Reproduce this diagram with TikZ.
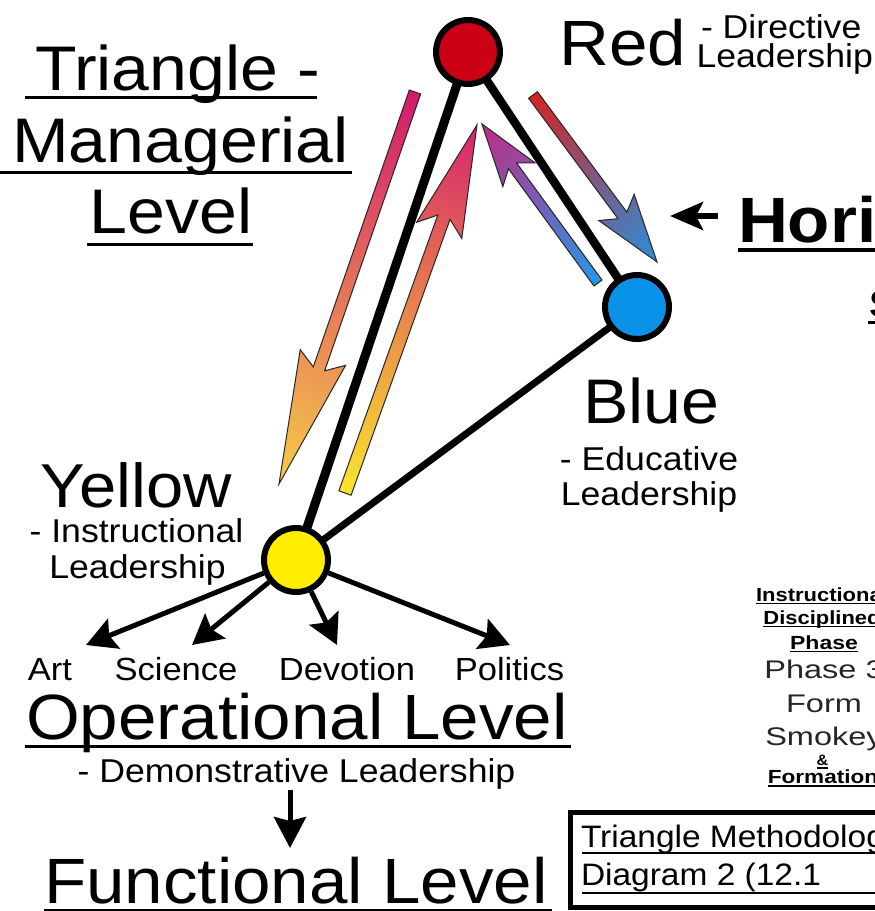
\documentclass[tikz,border=0pt]{standalone}
\usepackage{fontspec}
\usepackage{graphicx}
\setmainfont{Liberation Sans}[FakeStretch=1.08]
\usetikzlibrary{arrows.meta,backgrounds}
\newcommand\fsz[1]{\fontsize{#1}{#1}\selectfont}
\newcommand\wide[2]{\scalebox{#1}[1]{#2}}
\definecolor{cRed}{HTML}{CC0014}
\definecolor{cBlue}{HTML}{0A92E8}
\definecolor{cYel}{HTML}{FFEE00}
\definecolor{aPink}{HTML}{D2196E}
\definecolor{aSalmon}{HTML}{EE8270}
\definecolor{aGold}{HTML}{F6CC48}
\definecolor{aYel}{HTML}{F9E52E}
\definecolor{aOrange}{HTML}{F2A066}
\definecolor{aCrim}{HTML}{D6246C}
\definecolor{aBlue}{HTML}{2796E6}
\definecolor{aPurp}{HTML}{8C7FB8}
\definecolor{aMag}{HTML}{C02C86}
\definecolor{aRed}{HTML}{D42424}
\definecolor{aGray}{HTML}{8A7C7E}
\definecolor{aSky}{HTML}{2A8EDC}
% gradient arrow: #1 tail, #2 angle, #3 length, #4 notch, #5 barb, #6 head half width, #7 shaft half width, #8 shading
\newcommand\garr[8]{%
  \begin{scope}[transform canvas={shift={#1},rotate=#2}]
    \shade[garrow,#8] (0,#7) -- ({#3-#4},#7) -- ({#3-#5},#6) -- (#3,0)
      -- ({#3-#5},-#6) -- ({#3-#4},-#7) -- (0,-#7) -- cycle;
  \end{scope}}
\begin{document}
\begin{tikzpicture}[x=1pt,y=1pt,
  txt/.style={inner sep=0pt, outer sep=0pt, anchor=base, text=black},
  ulb/.style={line width=3pt},
  uls/.style={line width=1.6pt},
  dot/.style={circle, draw=black, line width=6pt, minimum size=64pt, inner sep=0pt},
  barrow/.style={line width=5pt, -{Stealth[length=30pt,width=32pt,inset=5pt]}},
  garrow/.style={draw=black!85, line width=1pt, line join=miter},
]
\path[use as bounding box] (0,0) rectangle (875,-911);
\clip (0,0) rectangle (875,-911);

% circles
\node[dot, fill=cRed]  (R) at (468,-52) {};
\node[dot, fill=cBlue] (B) at (637,-307) {};
\node[dot, fill=cYel]  (Y) at (296,-560) {};
\begin{pgfonlayer}{background}
  \fill[white] (0,0) rectangle (875,-911);
  \draw[line width=9pt] (R.center) -- (Y.center);
  \draw[line width=8.5pt] (R.center) -- (B.center);
  \draw[line width=7pt] (B.center) -- (Y.center);
\end{pgfonlayer}

% gradient arrows
\garr{(415,-92)}{-109.13}{415}{122}{134}{24}{6}{left color=aPink, middle color=aSalmon, right color=aGold}
\garr{(345,-493)}{70.27}{391}{98}{112}{24}{6.5}{left color=aYel, middle color=aOrange, right color=aCrim}
\garr{(598,-283)}{126.12}{197}{52}{63}{20}{5}{left color=aBlue, middle color=aPurp, right color=aMag}
\garr{(533,-95)}{-53.4}{208}{58}{68}{22}{5.5}{left color=aRed, middle color=aGray, right color=aSky}

% title left
\node[txt, font=\fsz{63}] (tri) at (177.5,-90) {Triangle -};
\node[txt, font=\fsz{63}] (man) at (180.5,-162) {Managerial};
\node[txt, font=\fsz{63}] (lev) at (171,-233) {Level};
\draw[ulb] (25,-97) -- (317,-97);
\draw[ulb] (0,-172) -- (352,-172);
\draw[ulb] (87,-244) -- (253,-244);

% red label
\node[txt, font=\fsz{64}] (redl) at (622.5,-65) {Red};
\node[txt, anchor=base west, font=\fsz{33}] (redd) at (701,-38) {- Directive};
\node[txt, anchor=base west, font=\fsz{33}] (redl2) at (696.5,-67) {Leadership};

% horizontal
\node[txt, anchor=base west, font=\bfseries\fsz{64}] (hor) at (738,-242) {Horizontal};
\draw[line width=4pt] (738,-250) -- (900,-250);
\coordinate (hTail) at (718,-216);
\coordinate (hTip) at (670,-216);
\draw[line width=6pt, -{Stealth[length=33pt,width=28pt,inset=7pt]}] (hTail) -- (hTip);
\node[txt, anchor=base west, font=\bfseries\fsz{38}] (sfrag) at (869,-317) {S};
\draw[line width=3pt] (868,-322) -- (900,-322);

% blue label
\node[txt, font=\fsz{63}] (bluel) at (651.5,-423) {Blue};
\node[txt, font=\fsz{33}] (blued) at (649,-470) {- Educative};
\node[txt, font=\fsz{33}] (bluel2) at (649,-505) {Leadership};

% yellow label
\node[txt, font=\fsz{62}] (yell) at (136.5,-507) {Yellow};
\node[txt, font=\fsz{33}] (yeld) at (136.5,-542) {- Instructional};
\node[txt, font=\fsz{33}] (yell2) at (137.5,-578) {Leadership};

% operational arrows
\coordinate (artT) at (86,-645);
\coordinate (sciT) at (192,-645);
\coordinate (devT) at (337,-645);
\coordinate (polT) at (510,-645);
\draw[barrow] (Y) -- (artT);
\draw[barrow] (Y) -- (sciT);
\draw[barrow] (Y) -- (devT);
\draw[barrow] (Y) -- (polT);
\node[txt, font=\fsz{32}] (art) at (50,-680) {Art};
\node[txt, font=\fsz{32}] (sci) at (176,-680) {Science};
\node[txt, font=\fsz{32}] (dev) at (347,-680) {Devotion};
\node[txt, font=\fsz{32}] (pol) at (509.5,-680) {Politics};

\node[txt, font=\fsz{64}] (oper) at (297,-739) {Operational Level};
\draw[ulb] (25,-746) -- (571,-746);
\node[txt, font=\fsz{33}] (demo) at (296.5,-782) {- Demonstrative Leadership};
\coordinate (dTop) at (290,-790);
\coordinate (dBot) at (290,-848);
\draw[line width=5pt, -{Stealth[length=31pt,width=32pt,inset=4pt]}] (dTop) -- (dBot);
\node[txt, font=\fsz{64}] (func) at (296,-903) {Functional Level};
\draw[ulb] (44,-910) -- (552,-910);

% right column
\node[txt, font=\bfseries\fsz{19}] (rc1) at (822,-601) {\wide{1.07}{Instructional}};
\node[txt, font=\bfseries\fsz{19}] (rc2) at (822,-624) {\wide{1.07}{Disciplined}};
\node[txt, font=\bfseries\fsz{19}] (rc3) at (824,-649) {\wide{1.12}{Phase}};
\foreach \n in {rc1,rc2,rc3}{\draw[uls] ([yshift=-2.5pt]\n.base west) -- ([yshift=-2.5pt]\n.base east);}
\node[txt, font=\fsz{25.5}, text=black!85] (rc4) at (824,-678) {\wide{1.18}{Phase 3}};
\node[txt, font=\fsz{25.5}, text=black!85] (rc5) at (824,-712) {\wide{1.18}{Form}};
\node[txt, font=\fsz{25.5}, text=black!85] (rc6) at (824,-745) {\wide{1.18}{Smokey}};
\node[txt, font=\bfseries\fsz{15}] (rc7) at (822.5,-765) {\&};
\node[txt, font=\bfseries\fsz{19}] (rc8) at (823,-783) {\wide{1.1}{Formation}};
\foreach \n in {rc7,rc8}{\draw[uls] ([yshift=-3pt]\n.base west) -- ([yshift=-3pt]\n.base east);}

% box
\draw[line width=5pt] (570.5,-812.5) rectangle (960,-907.5);
\node[txt, anchor=base west, font=\fsz{31}] (bx1) at (581,-847) {Triangle Methodology};
\node[txt, anchor=base west, font=\fsz{31}] (bx2) at (581,-885) {Diagram 2 (12.1};
\draw[uls, line width=2pt] (582,-853) -- (900,-853);
\draw[uls, line width=2pt] (582,-893) -- (900,-893);
\end{tikzpicture}
\end{document}
